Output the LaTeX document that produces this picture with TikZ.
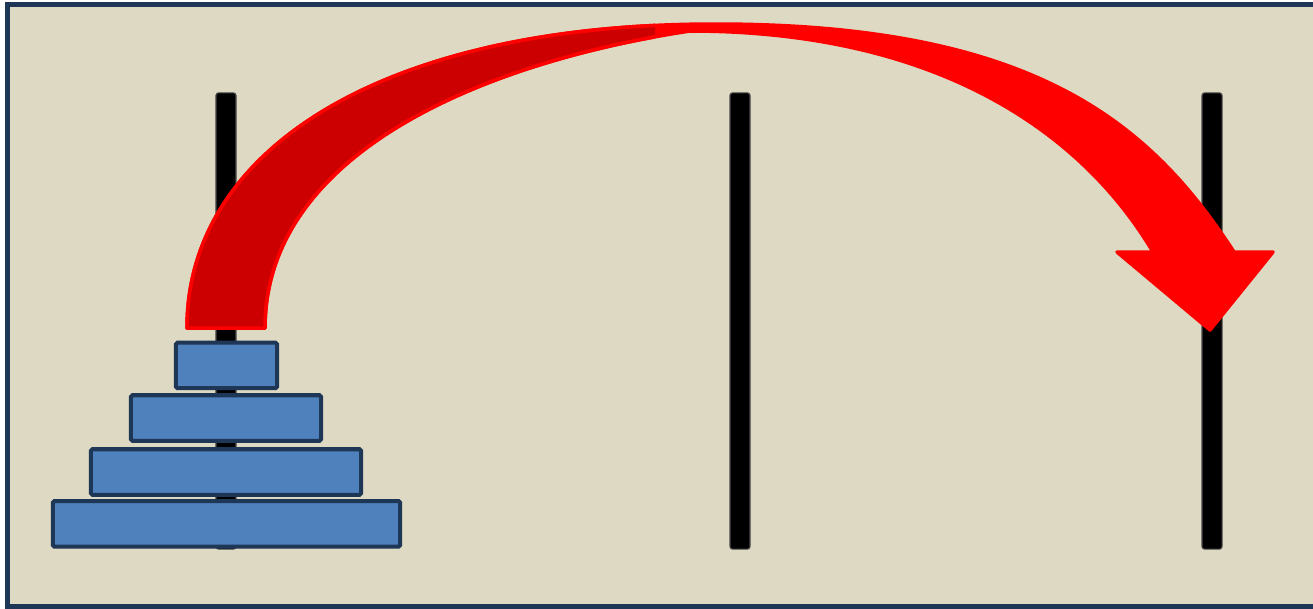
\documentclass[tikz,border=0pt]{standalone}
\usepackage{tikz}
\usetikzlibrary{arrows.meta,positioning,calc}
\definecolor{sand}{RGB}{221,217,195}
\definecolor{navy}{RGB}{31,55,86}
\definecolor{diskblue}{RGB}{79,129,189}
\definecolor{arrowred}{RGB}{255,0,0}
\definecolor{darkred}{RGB}{204,0,0}

\begin{document}
\begin{tikzpicture}[x=0.01cm, y=-0.01cm,
  peg/.style={draw=black!70, fill=black, line width=0.3pt, rounded corners=0.25mm, minimum width=0.2cm, minimum height=4.56cm, inner sep=0pt},
  disk/.style={draw=navy, fill=diskblue, line width=1.15pt, rounded corners=0.15mm, minimum height=0.455cm, inner sep=0pt}]
\useasboundingbox (0,0) rectangle (1313,608);
\draw[navy, line width=1.42pt, fill=sand] (7.5,4.5) rectangle (1330,606);
% pegs
\node[peg] (pegA) at (226,321) {};
\node[peg] (pegB) at (740,321) {};
\node[peg] (pegC) at (1212,321) {};
% disks, smallest on top
\node[disk, minimum width=1.01cm] (d1) at (226.5,365.4) {};
\node[disk, minimum width=1.90cm] (d2) at (226,418) {};
\node[disk, minimum width=2.70cm] (d3) at (226,472) {};
\node[disk, minimum width=3.47cm] (d4) at (226.5,523.8) {};
% curved arrow
\fill[arrowred, draw=arrowred, line width=1pt, line join=round]
  (187,328) .. controls (187,148) and (385,24) .. (715,24)
  .. controls (1035,24) and (1150,123) .. (1234,252)
  -- (1273,252) -- (1210,330) -- (1117,252) -- (1153,252)
  .. controls (1083,134) and (940,31) .. (690,31)
  .. controls (490,61) and (265,150) .. (265,328) -- cycle;
\begin{scope}
\clip (0,0) rectangle (655,608);
\fill[darkred, draw=arrowred, line width=1pt, line join=round]
  (187,328) .. controls (187,148) and (385,24) .. (715,24)
  -- (690,31) .. controls (490,61) and (265,150) .. (265,328) -- cycle;
\end{scope}
\end{tikzpicture}
\end{document}
